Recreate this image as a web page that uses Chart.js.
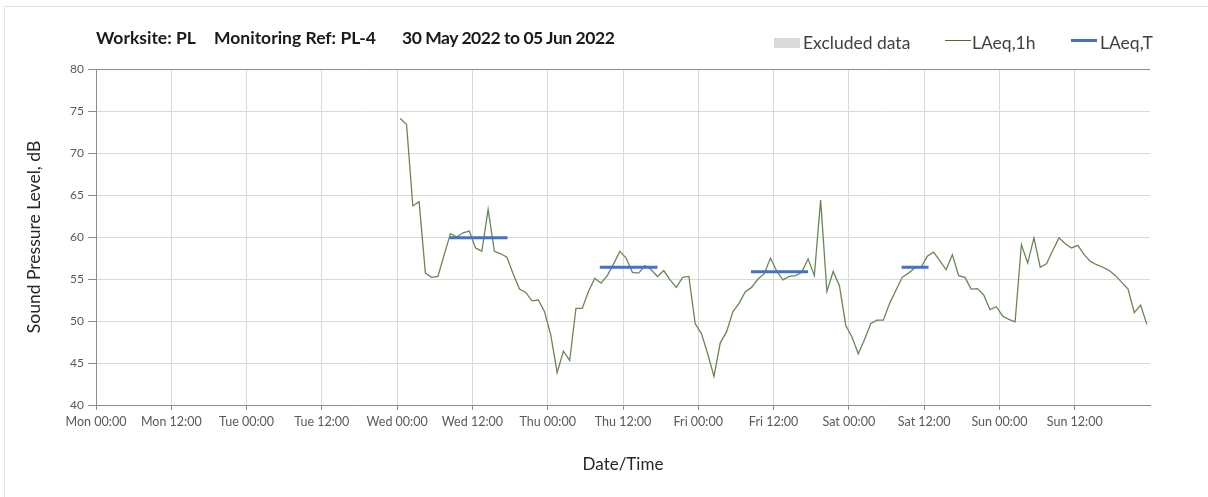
<!DOCTYPE html>
<html>
<head>
<meta charset="utf-8">
<script src="https://cdn.jsdelivr.net/npm/chart.js@4.4.1/dist/chart.umd.min.js"></script>
<style>
    body { margin: 0; background: #fff; font-family: Lato, "Open Sans", sans-serif; }
    #wrap { position: relative; width: 1208px; height: 497px; overflow: hidden; }
    #frame { position: absolute; left: 4px; top: 6px; width: 1230px; height: 520px; border: 1px solid #e3e3e3; box-sizing: border-box; }
    canvas { position: absolute; left: 0; top: 0; }
    .t { position: absolute; top: 27px; font-weight: bold; font-size: 17.5px; color: #1a1a1a; white-space: nowrap; }
    .lg { position: absolute; top: 32px; font-size: 17.5px; color: #404040; white-space: nowrap; }
    .sw { position: absolute; }
</style>
</head>
<body>
<div id="wrap">
    <div id="frame"></div>
    <canvas id="mainChart" width="1208" height="497"></canvas>

    <!-- Title -->
    <span class="t" style="left:96px">Worksite: PL</span>
    <span class="t" style="left:214px">Monitoring Ref: PL-4</span>
    <span class="t" style="left:402px; letter-spacing:-0.45px">30 May 2022 to 05 Jun 2022</span>

    <!-- Legend -->
    <div class="sw" style="left:774px; top:38px; width:26px; height:10px; background:#d9d9d9"></div>
    <span class="lg" style="left:803px">Excluded data</span>
    <div class="sw" style="left:945px; top:40px; width:26px; height:1px; background:#4f6b2f"></div>
    <span class="lg" style="left:972px">LAeq,1h</span>
    <div class="sw" style="left:1071px; top:39px; width:26px; height:3px; background:#4472c4"></div>
    <span class="lg" style="left:1100px">LAeq,T</span>
</div>

<script>
// x axis runs in hours from Mon 00:00 (0) to Mon 00:00 next week (168)
const dayNames = ['Mon', 'Tue', 'Wed', 'Thu', 'Fri', 'Sat', 'Sun'];
const yTicks = [40, 45, 50, 55, 60, 65, 70, 75, 80];

// hourly LAeq,1h values, first one plotted at Wed 00:30
const firstHour = 48.5;
const laeq1h = [
    74.1, 73.4, 63.7, 64.2, 55.7, 55.2, 55.3, 57.9, 60.4, 60.0,
    60.5, 60.7, 58.7, 58.3, 63.3, 58.3, 58.0, 57.6, 55.6, 53.8,
    53.4, 52.4, 52.5, 51.1, 48.3, 43.85, 46.4, 45.3, 51.5, 51.5,
    53.5, 55.1, 54.5, 55.4, 56.8, 58.3, 57.5, 55.8, 55.7, 56.6,
    56.1, 55.3, 56.0, 54.9, 54.0, 55.2, 55.3, 49.7, 48.5, 46.1,
    43.4, 47.4, 48.7, 51.1, 52.1, 53.5, 54.0, 55.0, 55.6, 57.5,
    55.95, 54.9, 55.3, 55.4, 55.8, 57.4, 55.4, 64.4, 53.5, 55.9,
    54.2, 49.5, 48.1, 46.1, 47.8, 49.7, 50.1, 50.1, 52.1, 53.65,
    55.2, 55.7, 56.3, 56.4, 57.7, 58.2, 57.2, 56.1, 57.9, 55.4,
    55.2, 53.8, 53.85, 53.1, 51.35, 51.7, 50.6, 50.2, 49.9, 59.1,
    56.9, 59.9, 56.4, 56.8, 58.4, 59.9, 59.2, 58.7, 59.0, 57.9,
    57.1, 56.7, 56.4, 56.0, 55.4, 54.6, 53.8, 51.0, 51.9, 49.6
];

// LAeq,T assessment periods (hours from Mon 00:00)
const periodStart = [56.3, 80.3, 104.4, 128.4];
const periodEnd   = [65.6, 89.5, 113.5, 132.7];
const periodLevel = [59.9, 56.4, 55.85, 56.4];

// excluded periods (none in this week)
const excluded = [];

const CHART_LEFT = 96, CHART_RIGHT = 1150, CHART_TOP = 69, CHART_BOTTOM = 405;
const W = 1208, H = 497;

function buildHourly() {
    return laeq1h.map((v, i) => ({ x: firstHour + i, y: v }));
}

function buildPeriods() {
    let pts = [];
    periodStart.forEach((s, i) => {
        pts.push({ x: s, y: periodLevel[i] });
        pts.push({ x: periodEnd[i], y: periodLevel[i] });
        pts.push({ x: (periodEnd[i] + (periodStart[i + 1] || 168)) / 2, y: null });
    });
    return pts;
}

function setupChart() {
    const ctx = document.getElementById('mainChart').getContext('2d');
    Chart.defaults.font.family = 'Lato, "Open Sans", sans-serif';

    new Chart(ctx, {
        type: 'line',
        data: {
            datasets: [
                {
                    label: 'LAeq,T',
                    data: buildPeriods(),
                    borderColor: '#4472c4',
                    borderWidth: 3,
                    pointRadius: 0,
                    spanGaps: false
                },
                {
                    label: 'LAeq,1h',
                    data: buildHourly(),
                    borderColor: '#6a8654',
                    borderWidth: 1.3,
                    pointRadius: 0,
                    tension: 0
                },
                {
                    label: 'Excluded data',
                    data: excluded,
                    backgroundColor: '#d9d9d9'
                }
            ]
        },
        options: {
            responsive: false,
            animation: false,
            layout: { padding: { left: 0, right: W - CHART_RIGHT, top: CHART_TOP, bottom: 0 } },
            plugins: { legend: { display: false }, tooltip: { enabled: false } },
            scales: {
                x: {
                    type: 'linear',
                    min: 0,
                    max: 168,
                    afterFit: s => { s.height = H - CHART_BOTTOM; },
                    ticks: {
                        stepSize: 12,
                        autoSkip: false,
                        maxRotation: 0,
                        padding: 4,
                        color: '#595959',
                        font: { size: 12.5 },
                        callback: v => v >= 168 ? null : dayNames[Math.floor(v / 24)] + (v % 24 === 0 ? ' 00:00' : ' 12:00')
                    },
                    grid: {
                        color: c => c.tick && c.tick.value === 168 ? '#8c8c8c' : '#d9d9d9',
                        tickColor: '#8c8c8c',
                        tickLength: 5
                    },
                    border: { color: '#8c8c8c' },
                    title: {
                        display: true,
                        text: 'Date/Time',
                        color: '#262626',
                        font: { size: 17 },
                        padding: { top: 0, bottom: 22 }
                    }
                },
                y: {
                    min: yTicks[0],
                    max: yTicks[yTicks.length - 1],
                    afterFit: s => { s.width = CHART_LEFT; },
                    afterBuildTicks: s => { s.ticks = yTicks.map(v => ({ value: v })); },
                    ticks: {
                        padding: 4,
                        color: '#595959',
                        font: { size: 12 }
                    },
                    grid: {
                        color: c => c.tick && c.tick.value === 80 ? '#8c8c8c' : '#d9d9d9',
                        tickColor: '#8c8c8c',
                        tickLength: 8
                    },
                    border: { color: '#8c8c8c' },
                    title: {
                        display: true,
                        text: 'Sound Pressure Level, dB',
                        color: '#262626',
                        font: { size: 17.5 },
                        padding: { top: 24, bottom: 0 }
                    }
                }
            }
        }
    });
}

window.onload = setupChart;
</script>
</body>
</html>
